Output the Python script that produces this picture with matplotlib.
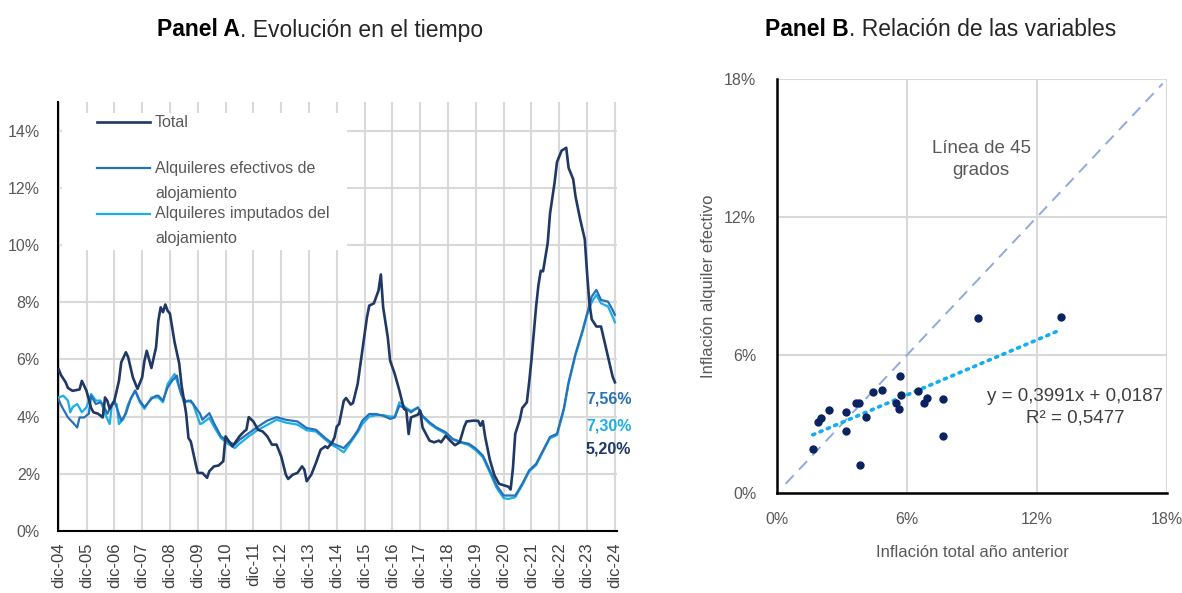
import numpy as np
import matplotlib
matplotlib.use("Agg")
import matplotlib.pyplot as plt
from matplotlib import font_manager

# Panel A: (meses desde dic-04, %)
TOTAL = [
    (0, 5.65), (1, 5.45), (3, 5.2), (4, 5.0), (6, 4.9), (9, 4.95), (10, 5.25), (12, 4.9), (14, 4.3),
    (15, 4.15), (17, 4.1), (19, 3.97), (20, 4.67), (21, 4.55), (22, 4.27), (24, 4.55), (26, 5.25),
    (27, 5.9), (29, 6.25), (30, 6.07), (32, 5.37), (34, 4.97), (36, 5.37), (37, 5.95), (38, 6.3),
    (40, 5.7), (42, 6.42), (43, 7.36), (44, 7.82), (45, 7.65), (46, 7.92), (47, 7.7), (48, 7.6),
    (50, 6.6), (52, 5.86), (53, 5.1), (55, 4.1), (56, 3.25), (57, 3.13), (59, 2.38), (60, 2.03),
    (62, 2.03), (64, 1.86), (65, 2.09), (67, 2.26), (69, 2.29), (71, 2.44), (72, 3.31), (73, 3.19),
    (75, 2.96), (78, 3.31), (80, 3.48), (81, 3.54), (82, 3.98), (84, 3.83), (86, 3.54), (88, 3.48),
    (90, 3.31), (92, 3.02), (94, 3.02), (96, 2.61), (98, 1.97), (99, 1.82), (101, 1.97), (103, 2.03),
    (105, 2.26), (106, 2.15), (107, 1.74), (109, 1.97), (111, 2.38), (113, 2.84), (115, 2.96),
    (116, 2.9), (118, 3.1), (119, 3.27), (120, 3.65), (121, 3.74), (123, 4.55), (124, 4.65),
    (126, 4.42), (127, 4.48), (129, 5.14), (131, 6.31), (133, 7.47), (134, 7.88), (136, 7.96),
    (138, 8.41), (139, 8.97), (140, 7.82), (142, 6.77), (143, 5.96), (145, 5.49), (147, 4.91),
    (148, 4.58), (149, 4.27), (150, 4.21), (151, 3.39), (152, 3.97), (155, 4.07), (156, 4.21),
    (157, 3.62), (160, 3.16), (162, 3.1), (164, 3.16), (165, 3.1), (167, 3.33), (169, 3.15),
    (171, 3.0), (173, 3.1), (175, 3.65), (176, 3.83), (179, 3.86), (181, 3.85), (182, 3.68),
    (183, 3.84), (184, 3.3), (186, 2.5), (188, 1.95), (190, 1.65), (192, 1.6), (194, 1.55),
    (195, 1.45), (196, 2.2), (197, 3.4), (199, 3.9), (200, 4.3), (202, 4.5), (203, 5.2), (204, 6.0),
    (206, 7.85), (207, 8.6), (208, 9.1), (209, 9.08), (211, 10.07), (212, 11.1), (214, 12.2),
    (215, 12.9), (217, 13.3), (219, 13.4), (220, 12.7), (222, 12.3), (223, 11.7), (225, 10.9),
    (227, 10.2), (228, 9.0), (229, 7.96), (230, 7.4), (232, 7.15), (234, 7.15), (235, 6.8),
    (237, 6.09), (239, 5.4), (240, 5.2),
]
EFECTIVOS = [
    (0, 4.6), (1, 4.4), (4, 3.97), (6, 3.8), (8, 3.62), (9, 3.97), (11, 3.97), (13, 4.1), (14, 4.73),
    (16, 4.44), (18, 4.5), (19, 4.44), (21, 4.1), (23, 4.44), (24, 4.56), (27, 3.86), (29, 4.1),
    (31, 4.62), (33, 4.91), (35, 4.56), (37, 4.33), (40, 4.62), (42, 4.73), (43, 4.73), (45, 4.56),
    (47, 5.02), (49, 5.26), (51, 5.43), (52, 5.02), (53, 4.76), (55, 4.52), (57, 4.56), (59, 4.33),
    (61, 4.1), (62, 3.89), (65, 4.12), (67, 3.77), (70, 3.31), (73, 3.13), (76, 3.02), (78, 3.19),
    (82, 3.42), (86, 3.65), (90, 3.86), (94, 3.98), (98, 3.89), (103, 3.83), (107, 3.6), (111, 3.54),
    (115, 3.25), (118, 3.07), (123, 2.9), (126, 3.16), (129, 3.51), (131, 3.86), (134, 4.09),
    (137, 4.09), (140, 4.03), (143, 3.92), (145, 3.97), (147, 4.38), (150, 4.27), (152, 4.15),
    (155, 4.32), (157, 4.03), (160, 3.8), (163, 3.62), (167, 3.45), (170, 3.22), (174, 3.1),
    (177, 3.05), (180, 2.88), (183, 2.64), (186, 2.12), (189, 1.59), (192, 1.24), (194, 1.24),
    (197, 1.24), (200, 1.65), (203, 2.12), (206, 2.35), (209, 2.82), (212, 3.29), (215, 3.4),
    (218, 4.3), (220, 5.2), (223, 6.2), (226, 7.0), (228, 7.6), (230, 8.2), (232, 8.43), (234, 8.08),
    (237, 8.02), (239, 7.73), (240, 7.56),
]
IMPUTADOS = [
    (0, 4.67), (2, 4.73), (4, 4.56), (5, 4.15), (6, 4.33), (8, 4.44), (10, 4.15), (12, 4.33),
    (14, 4.79), (16, 4.56), (18, 4.56), (20, 4.1), (22, 3.74), (23, 4.44), (25, 4.44), (26, 3.74),
    (28, 3.92), (30, 4.44), (33, 4.91), (35, 4.5), (37, 4.27), (40, 4.67), (43, 4.67), (45, 4.5),
    (47, 5.14), (50, 5.49), (52, 5.02), (54, 4.5), (56, 4.56), (58, 4.44), (61, 3.74), (62, 3.77),
    (65, 3.95), (67, 3.65), (70, 3.25), (73, 3.05), (76, 2.9), (78, 3.05), (82, 3.31), (86, 3.54),
    (90, 3.71), (94, 3.89), (98, 3.79), (103, 3.72), (107, 3.52), (111, 3.48), (115, 3.2), (118, 3.0),
    (120, 2.92), (123, 2.75), (126, 3.1), (129, 3.45), (131, 3.74), (134, 4.0), (137, 4.05),
    (140, 4.05), (143, 4.0), (145, 4.0), (147, 4.5), (150, 4.3), (152, 4.2), (155, 4.32), (157, 4.0),
    (160, 3.75), (163, 3.58), (167, 3.4), (170, 3.2), (174, 3.08), (177, 3.0), (180, 2.82),
    (183, 2.58), (186, 2.05), (189, 1.5), (192, 1.15), (194, 1.12), (197, 1.18), (200, 1.6),
    (203, 2.08), (206, 2.3), (209, 2.78), (212, 3.25), (215, 3.35), (218, 4.25), (220, 5.15),
    (223, 6.15), (226, 6.95), (228, 7.55), (230, 8.0), (232, 8.26), (234, 7.96), (237, 7.85),
    (239, 7.5), (240, 7.3),
]
SERIES_NAMES = ["Total", "Alquileres efectivos de\nalojamiento", "Alquileres imputados del\nalojamiento"]
X_LABELS = ["dic-%02d" % y for y in range(4, 25)]

# Panel B: inflación total año anterior vs inflación alquiler efectivo (%)
SCATTER_X = [1.65, 1.88, 2.02, 2.42, 3.18, 3.17, 3.63, 3.78, 3.83, 4.09, 4.45, 4.85, 5.66, 5.51,
             5.62, 5.72, 6.52, 6.78, 6.93, 7.67, 7.67, 9.27, 13.1]
SCATTER_Y = [1.91, 3.07, 3.28, 3.59, 3.53, 2.70, 3.90, 3.90, 1.23, 3.30, 4.38, 4.50, 5.10, 3.90,
             3.64, 4.27, 4.44, 3.90, 4.12, 4.08, 2.50, 7.60, 7.67]
SLOPE, INTERCEPT, R2 = 0.3991, 0.0187, 0.5477
LINE45 = [0.4, 17.8]

names = {f.name for f in font_manager.fontManager.ttflist}
FONT = "Liberation Sans Narrow" if "Liberation Sans Narrow" in names else "Liberation Sans"
plt.rcParams["font.family"] = [FONT, "DejaVu Sans"]

C_TOTAL = "#1F3864"
C_EFEC = "#2672B8"
C_IMPU = "#1AAEEA"
GRID = "#D9D9D9"
TXT = "#595959"


def comma(x):
    return str(x).replace(".", ",")


fig = plt.figure(figsize=(11.82, 5.93), dpi=100)

# ---------------- Panel A ----------------
ax = fig.add_axes([58 / 1182, 1 - 531 / 593, 559 / 1182, 429 / 593])
colors = [C_TOTAL, C_EFEC, C_IMPU]
widths = [1.9, 1.6, 1.6]
all_series = [TOTAL, EFECTIVOS, IMPUTADOS]
for data, c, lw in zip(all_series[::-1], colors[::-1], widths[::-1]):
    m, v = zip(*data)
    ax.plot(m, v, color=c, lw=lw, solid_joinstyle="round", zorder=3)

ax.set_xlim(-0.3, 240.9)
ax.set_ylim(0, 15)
ax.set_yticks(range(0, 15, 2))
ax.set_yticklabels(["%d%%" % t for t in range(0, 15, 2)])
ax.set_xticks(range(0, 241, 12))
ax.set_xticklabels(X_LABELS, rotation=90)
ax.grid(True, color=GRID, lw=1.5, zorder=0)
ax.set_axisbelow(True)
ax.tick_params(axis="y", length=0, pad=13, labelsize=11.5, labelcolor=TXT)
ax.tick_params(axis="x", length=0, pad=8, labelsize=12, labelcolor="#404040")
for s in ["top", "right"]:
    ax.spines[s].set_visible(False)
for s in ["left", "bottom"]:
    ax.spines[s].set_color("black")
    ax.spines[s].set_linewidth(1.5)

# legend box (white, hides grid)
ax.add_patch(plt.Rectangle((0.007, 0.655), 0.51, 0.32, transform=ax.transAxes,
                           facecolor="white", edgecolor="none", zorder=2))
leg_y = [0.953, 0.846, 0.739]
for name, c, lw, y in zip(SERIES_NAMES, colors, widths, leg_y):
    ax.plot([0.0698, 0.1646], [y, y], transform=ax.transAxes, color=c, lw=lw, zorder=4)
    for i, line in enumerate(name.split("\n")):
        ax.text(0.1735, y - i * 25 / 429, line, transform=ax.transAxes, va="center", ha="left",
                fontsize=11.5, color=TXT, zorder=4)

# end labels
lab_y = [4.6, 3.66, 2.86]
for data, c, y in zip([EFECTIVOS, IMPUTADOS, TOTAL], [C_EFEC, C_IMPU, C_TOTAL], lab_y):
    val = comma("%.2f%%" % data[-1][1])
    ax.text(227.5, y, val, color=c, fontsize=11.5, fontweight="bold", va="center", ha="left", zorder=5)

# ---------------- Panel B ----------------
bx = fig.add_axes([777 / 1182, 1 - 493 / 593, 390 / 1182, 414 / 593])
bx.plot(LINE45, LINE45, color="#8FAADC", lw=1.4, dashes=(6, 4), zorder=2)
tx = np.array([min(SCATTER_X), max(SCATTER_X)])
ty = (SLOPE * tx / 100 + INTERCEPT) * 100
bx.plot(tx, ty, color="#12AEEF", lw=2.6, linestyle=(0, (0.6, 1.6)), dash_capstyle="round", zorder=3)
bx.scatter(SCATTER_X, SCATTER_Y, s=36, color="#0B2460", zorder=4, linewidths=0)

bx.set_xlim(0, 18)
bx.set_ylim(0, 18)
ticks = [0, 6, 12, 18]
bx.set_xticks(ticks)
bx.set_yticks(ticks)
bx.set_xticklabels(["%d%%" % t for t in ticks])
bx.set_yticklabels(["%d%%" % t for t in ticks])
bx.grid(True, color=GRID, lw=1.5, zorder=0)
bx.set_axisbelow(True)
bx.tick_params(length=0, labelsize=11.5, labelcolor=TXT)
bx.tick_params(axis="y", pad=15)
bx.tick_params(axis="x", pad=14)
for s in ["top", "right"]:
    bx.spines[s].set_visible(False)
for s in ["left", "bottom"]:
    bx.spines[s].set_color("black")
    bx.spines[s].set_linewidth(1.8)

bx.set_xlabel("Inflación total año anterior", fontsize=12, color=TXT)
bx.set_ylabel("Inflación alquiler efectivo", fontsize=12, color=TXT)
bx.xaxis.set_label_coords(0.5, -0.125)
bx.yaxis.set_label_coords(-0.156, 0.5)

bx.text(9.42, 14.5, "Línea de 45\ngrados", ha="center", va="center", fontsize=13.5,
        color=TXT, linespacing=1.35)
eq = "y = %sx + %s\nR² = %s" % (comma(SLOPE), comma(INTERCEPT), comma(R2))
bx.text(13.75, 3.74, eq, ha="center", va="center", fontsize=13.5, color="#404040", linespacing=1.35)

# ---------------- titles ----------------
for x0, bold, rest in [(157, "Panel A", ". Evolución en el tiempo"),
                       (765, "Panel B", ". Relación de las variables")]:
    t1 = fig.text(x0 / 1182, 1 - 30 / 593, bold, fontsize=16.5, fontweight="bold", va="center",
                  ha="left", color="black")
    fig.add_artist(plt.Annotation(rest, xy=(1, 0.5), xycoords=t1, va="center", ha="left",
                                  fontsize=16.5, color="#262626"))

fig.savefig("out.png", dpi=100)
